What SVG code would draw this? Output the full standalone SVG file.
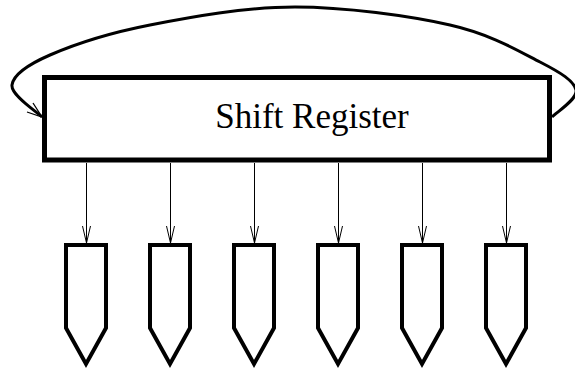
<svg xmlns="http://www.w3.org/2000/svg" width="575" height="372" viewBox="0 0 575 372">
<style>
.reg{fill:#fff;stroke:#000;stroke-width:5}
.out{fill:#fff;stroke:#000;stroke-width:4;stroke-linejoin:miter}
.wire{fill:none;stroke:#000;stroke-width:1}
.loop{fill:none;stroke:#000;stroke-width:3}
.lbl{font-family:"Liberation Serif","Times New Roman",serif;font-size:35px;fill:#000}
</style>
<g id="connectors">
<path class="loop" d="M552,117 C556,112.5 578,99.2 576,90 C574,80.8 561,72.8 540,62 C519,51.2 490.8,34.2 450,25 C409.2,15.8 345,7 295,7 C245,7 190.8,17 150,25 C109.2,33 73,45 50,55 C27,65 13.3,74.7 12,85 C10.7,95.3 37,111.7 42,117"/>
<polyline points="27,112 42,117 33,103" fill="none" stroke="#000" stroke-width="1.3"/>
<line class="wire" x1="86.5" y1="163" x2="86.5" y2="243"/>
<line class="wire" x1="170.5" y1="163" x2="170.5" y2="243"/>
<line class="wire" x1="254.5" y1="163" x2="254.5" y2="243"/>
<line class="wire" x1="338.5" y1="163" x2="338.5" y2="243"/>
<line class="wire" x1="422.5" y1="163" x2="422.5" y2="243"/>
<line class="wire" x1="506.5" y1="163" x2="506.5" y2="243"/>
<polyline class="wire" points="82.5,226 86.5,243 90.5,226"/>
<polyline class="wire" points="166.5,226 170.5,243 174.5,226"/>
<polyline class="wire" points="250.5,226 254.5,243 258.5,226"/>
<polyline class="wire" points="334.5,226 338.5,243 342.5,226"/>
<polyline class="wire" points="418.5,226 422.5,243 426.5,226"/>
<polyline class="wire" points="502.5,226 506.5,243 510.5,226"/>
</g>
<g id="shift-register">
<rect class="reg" x="44.5" y="77.5" width="505" height="82.5"/>
<text class="lbl" x="312" y="128" text-anchor="middle">Shift Register</text>
</g>
<g id="out1"><polygon class="out" points="66,245 106,245 106,328 86,364 66,328"/></g>
<g id="out2"><polygon class="out" points="150,245 190,245 190,328 170,364 150,328"/></g>
<g id="out3"><polygon class="out" points="234,245 274,245 274,328 254,364 234,328"/></g>
<g id="out4"><polygon class="out" points="318,245 358,245 358,328 338,364 318,328"/></g>
<g id="out5"><polygon class="out" points="402,245 442,245 442,328 422,364 402,328"/></g>
<g id="out6"><polygon class="out" points="486,245 526,245 526,328 506,364 486,328"/></g>
</svg>
